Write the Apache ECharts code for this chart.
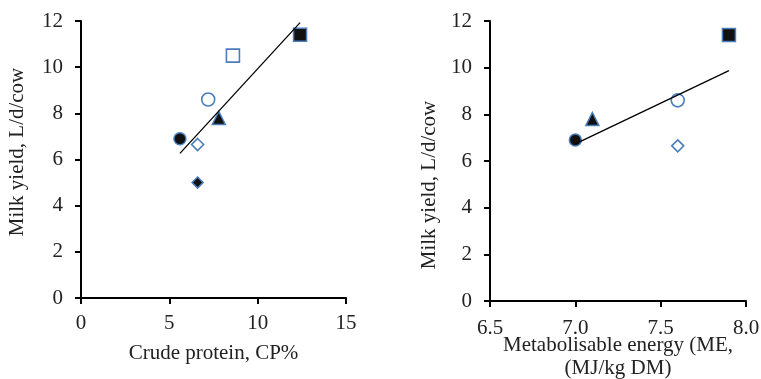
<!DOCTYPE html>
<html>
<head>
<meta charset="utf-8">
<script src="https://cdn.jsdelivr.net/npm/echarts@6/dist/echarts.min.js"></script>
<style>
html,body{margin:0;padding:0;background:#fff;}
#chart{width:761px;height:379px;}
</style>
</head>
<body>
<div id="chart"></div>
<script>
// ---- data ----
const cpValues = [5.6, 6.6, 6.6, 7.2, 7.8, 8.6, 12.4];      // crude protein, CP%
const meValues = [7.0, 7.6, null, 7.6, 7.1, null, 7.9];     // ME, MJ/kg DM
const milkYield = [6.9, 6.65, 5.0, 8.6, 7.8, 10.5, 11.4];   // L/d/cow
const cpTicks = [0, 5, 10, 15];
const meTicks = [6.5, 7.0, 7.5, 8.0];
const yTicks = [0, 2, 4, 6, 8, 10, 12];

// ---- marker styles ----
const symbols = ['circle', 'diamond', 'diamond', 'circle', 'triangle', 'rect', 'rect'];
const filled  = [true, false, true, false, true, false, true];
const sizes   = [12, 12, 11, 13, 13, 13, 13];

const BLUE = '#4a7ebb';
const FONT = "'Liberation Serif','Times New Roman',serif";

function fit(xs, ys) {
  const pts = [];
  xs.forEach((x, i) => { if (x !== null) pts.push([x, ys[i]]); });
  const n = pts.length;
  const mx = pts.reduce((s, p) => s + p[0], 0) / n;
  const my = pts.reduce((s, p) => s + p[1], 0) / n;
  let sxy = 0, sxx = 0;
  pts.forEach(p => { sxy += (p[0] - mx) * (p[1] - my); sxx += (p[0] - mx) ** 2; });
  const b = sxy / sxx, a = my - b * mx;
  const xmin = Math.min(...pts.map(p => p[0])), xmax = Math.max(...pts.map(p => p[0]));
  return [[xmin, a + b * xmin], [xmax, a + b * xmax]];
}

function pointSeries(xs, idx) {
  const out = [];
  xs.forEach((x, i) => {
    if (x === null) return;
    out.push({
      type: 'scatter', xAxisIndex: idx, yAxisIndex: idx,
      symbol: symbols[i], symbolSize: sizes[i],
      itemStyle: { color: filled[i] ? '#111' : '#fff', borderColor: BLUE, borderWidth: filled[i] ? 1.5 : 1.6, opacity: 1 },
      data: [[x, milkYield[i]]], z: 3, silent: true
    });
  });
  out.push({
    type: 'line', xAxisIndex: idx, yAxisIndex: idx, data: fit(xs, milkYield),
    symbol: 'none', lineStyle: { color: '#000', width: 1.3 }, z: 4, silent: true
  });
  return out;
}

const axisCommon = {
  axisLine: { show: true, lineStyle: { color: '#000', width: 2 } },
  axisTick: { show: true, length: 6, lineStyle: { color: '#000', width: 2 } },
  splitLine: { show: false },
  axisLabel: { color: '#222', fontFamily: FONT, fontSize: 21 }
};

const option = {
  animation: false,
  backgroundColor: '#fff',
  grid: [
    { left: 81, right: 415, top: 21, bottom: 81, containLabel: false, outerBoundsMode: 'none' },
    { left: 490, right: 15, top: 21, bottom: 78, containLabel: false, outerBoundsMode: 'none' }
  ],
  xAxis: [
    Object.assign({}, axisCommon, {
      type: 'value', gridIndex: 0, min: cpTicks[0], max: cpTicks[cpTicks.length - 1], interval: cpTicks[1] - cpTicks[0],
      name: 'Crude protein, CP%', nameLocation: 'middle', nameGap: 45, nameMoveOverlap: false,
      nameTextStyle: { color: '#222', fontFamily: FONT, fontSize: 21 },
      axisLabel: Object.assign({}, axisCommon.axisLabel, { margin: 15 })
    }),
    Object.assign({}, axisCommon, {
      type: 'value', gridIndex: 1, min: meTicks[0], max: meTicks[meTicks.length - 1], interval: meTicks[1] - meTicks[0],
      name: 'Metabolisable energy (ME,\n(MJ/kg DM)', nameLocation: 'middle', nameGap: 33, nameMoveOverlap: false,
      nameTextStyle: { color: '#222', fontFamily: FONT, fontSize: 21, lineHeight: 23 },
      axisLabel: Object.assign({}, axisCommon.axisLabel, { margin: 17, formatter: v => v.toFixed(1) })
    })
  ],
  yAxis: [0, 1].map(g => Object.assign({}, axisCommon, {
    type: 'value', gridIndex: g, min: yTicks[0], max: yTicks[yTicks.length - 1], interval: yTicks[1] - yTicks[0],
    axisLabel: Object.assign({}, axisCommon.axisLabel, { margin: 18 })
  })),
  graphic: [
    { type: 'text', x: 17, y: 152, rotation: Math.PI / 2,
      style: { text: 'Milk yield, L/d/cow', fill: '#222', font: '21px ' + FONT, textAlign: 'center', textVerticalAlign: 'middle' } },
    { type: 'text', x: 429, y: 185, rotation: Math.PI / 2,
      style: { text: 'Milk yield, L/d/cow', fill: '#222', font: '21px ' + FONT, textAlign: 'center', textVerticalAlign: 'middle' } }
  ],
  series: [].concat(pointSeries(cpValues, 0), pointSeries(meValues, 1))
};

const chart = echarts.init(document.getElementById('chart'), null, { renderer: 'canvas' });
chart.setOption(option);
</script>
</body>
</html>
